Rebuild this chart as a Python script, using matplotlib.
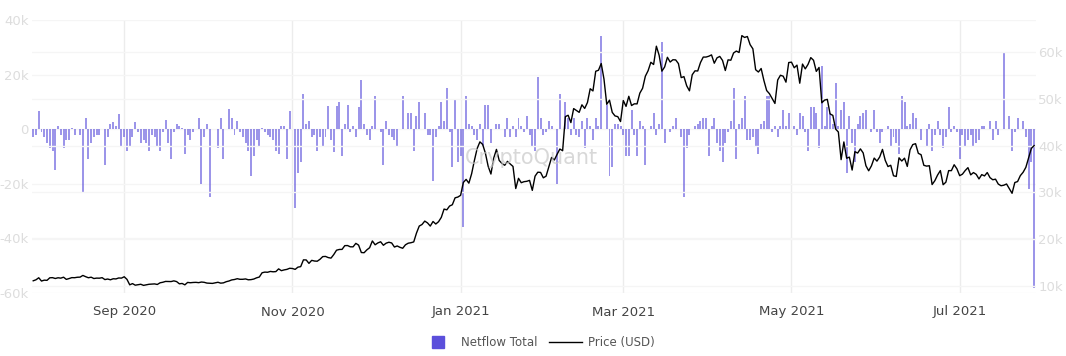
import pandas as pd
import matplotlib
matplotlib.use("Agg")
import matplotlib.pyplot as plt
import matplotlib.dates as mdates
from matplotlib.ticker import FuncFormatter
from matplotlib.lines import Line2D

# daily netflow (thousands BTC)
flow_jul20 = [-3, -2]
flow_aug20 = [6.5, -1, -3, -5, -7, -8, -15, 1, -2, -7, -4, -4, 0.5, -2, 0, -2, -23, 4, -11, -5,
              -3, -2, -2, 0, -13, -3, 2, 2.5, 1, 5.5, -6]
flow_sep20 = [-3, -8, -6, -3, 2.5, -1, -5, -4, -5, -8, -2, -3, -6, -8, -1, 3.5, -5, -11, -1, 2,
              1, 0.5, -9, -2, -4, -1, 0, 4, -20, -3]
flow_oct20 = [2, -25, 0, 0, -7, 4, -11, 0, 7.5, 4, -2, 3, -1, -3, -5, -8, -17, -10, -4, -6,
              0.5, -1, -2, -3, -4, -8, -9, 1, 1, -11, 6.5]
flow_nov20 = [0, -29, -16, -12, 13, 2, 3, -3, -2, -8, -3, -6, -3, 8.5, -4, -8.5, 8.5, 10, -10, 2,
              9, -1, 1, -3, 8, 18, 2, -2, -4, 1]
flow_dec20 = [12, 0, -1, -13, 3, -2, -3, -4, -6, 0, 12, 0, 6, 6, -8, 5, 10, 0, 6, -2,
              -2, -19, -3, 1, 10, 3, 15, -1, -14, 11, -12]
flow_jan21 = [-10, -36, 12, 2, 1, -2, -4, 2, -6, 9, 9, -5, 0, 2, 2, 0, -3, 4, -3, 1,
              -3, 4, 1, -1, 5, -2, -6, -8, 19, 4, -2]
flow_feb21 = [-1, 3, 1, 0, -20, 13, 0, 10, 4, -2, 4, -2, -3, 3, -7, 4, 1, -4, 4, 1,
              34, 0, 9, -17, -14, 2, 2, 1]
flow_mar21 = [-2, -10, -10, 7, -2, -10, 3, 1, -13, 0, 1, 6, -2, 2, 32, -5, 0, -1, 1, 4,
              0, -3, -25, -7, -2, 0, 1, 2, 3, 4, 4]
flow_apr21 = [-10, 1, 4, -5, -8, -12, -5, -1, 3, 15, -11, 2, 4, 12, -4, -4, -3, -6, -9, 2,
              3, 12, 12, -1, 1, -3, 1, 7, 1, 6]
flow_may21 = [0, 1, -2, 6, 5, -1, -8, 8, 8, 6, -7, 23, 1, 8, 6, 2, 17, 1, 7, 10,
              -16, 5, -5, -12, 2, 5, 6, 7, 0, -1, 7]
flow_jun21 = [-1, -5, -1, 0, 1, -6, -3, -5, -9, 12, 10, 1, 2, 6, 4, 0, -4, 0, -6, 2,
              -8, -2, 3, -2, -7, -3, 8, -1, 1, -1]
flow_jul21 = [-11, -2, -6, -4, -2, -6, -5, -4, 1, 1, 0, 3, -4, 3, -2, 0, 28, 0, 5, -8,
              -1, 4, 0, 3, -3, -22, -12, -58]

# BTC price (USD)
price_jul20 = [11111, 11323]
price_aug20 = [11759, 11053, 11246, 11205, 11747, 11779, 11601, 11754, 11675, 11878, 11410, 11584,
               11784, 11768, 11865, 11892, 12254, 11991, 11758, 11878, 11592, 11681, 11664, 11774,
               11366, 11488, 11324, 11542, 11507, 11712, 11680]
price_sep20 = [11971, 11414, 10246, 10511, 10170, 10280, 10369, 10131, 10242, 10364, 10400, 10443,
               10323, 10680, 10796, 10974, 10948, 10944, 11094, 10939, 10462, 10538, 10246, 10761,
               10692, 10750, 10775, 10709, 10844, 10784]
price_oct20 = [10619, 10575, 10550, 10669, 10793, 10604, 10668, 10915, 11064, 11296, 11384, 11555,
               11425, 11430, 11505, 11323, 11359, 11483, 11742, 11917, 12823, 12965, 12932, 13108,
               13031, 13075, 13654, 13272, 13437, 13547, 13781]
price_nov20 = [13737, 13550, 14025, 14133, 15579, 15565, 14833, 15479, 15332, 15290, 15701, 16276,
               16317, 16068, 15955, 16716, 17645, 17804, 17817, 18621, 18642, 18370, 18364, 19107,
               18732, 17150, 17108, 17718, 18177, 19625]
price_dec20 = [18803, 19202, 19446, 18699, 19154, 19346, 19191, 18321, 18553, 18264, 18058, 18803,
               19142, 19246, 19417, 21310, 22805, 23137, 23869, 23477, 22803, 23783, 23241, 23735,
               24664, 26437, 26272, 27084, 27362, 28841, 29002]
price_jan21 = [29374, 32127, 32782, 31971, 33992, 36824, 39371, 40797, 40254, 38357, 35566, 33923,
               37316, 39187, 36825, 36178, 35792, 36631, 36070, 35547, 30826, 33005, 32068, 32290,
               32367, 32569, 30432, 33467, 34316, 34269, 33115]
price_feb21 = [33472, 35510, 37473, 36927, 38144, 39266, 38903, 46196, 46481, 44918, 47910, 47505,
               47105, 48717, 47945, 49200, 52149, 51679, 55888, 56100, 57540, 54207, 48825, 49705,
               47094, 46339, 46188, 45137]
price_mar21 = [49631, 48378, 50538, 48561, 48927, 48912, 51206, 52246, 54824, 56008, 57805, 57332,
               61243, 59302, 55907, 56805, 58870, 57858, 58346, 58313, 57523, 54529, 54738, 52774,
               51704, 55137, 55974, 55947, 57750, 58918, 58918]
price_apr21 = [59095, 59384, 57604, 58759, 59057, 58192, 56048, 58323, 58245, 59793, 60204, 59894,
               63503, 63110, 63314, 61572, 60683, 56216, 55724, 56473, 53906, 51763, 51094, 50050,
               49004, 54022, 55034, 54824, 53555, 57750]
price_may21 = [57828, 56631, 57200, 53333, 57424, 56397, 57356, 58803, 58232, 55859, 56704, 49150,
               49716, 49880, 46760, 46457, 43538, 42910, 37002, 40782, 37304, 37536, 34770, 38706,
               38403, 39294, 38436, 35697, 34617, 35678, 37332]
price_jun21 = [36685, 37576, 39188, 36856, 35520, 35797, 33553, 33403, 37389, 36703, 37313, 35551,
               39097, 40219, 40407, 38348, 38053, 35787, 35615, 35698, 31676, 32505, 33723, 34663,
               31637, 32186, 34650, 34649, 35911, 35040]
price_jul21 = [33572, 33897, 34668, 35287, 33746, 34235, 33855, 32877, 33799, 33520, 34240, 33155,
               32702, 32822, 31780, 31421, 31533, 31796, 30817, 29807, 32110, 32313, 33581, 34292,
               35350, 37337, 39406, 39995]

flow_months = [flow_jul20, flow_aug20, flow_sep20, flow_oct20, flow_nov20, flow_dec20, flow_jan21,
               flow_feb21, flow_mar21, flow_apr21, flow_may21, flow_jun21, flow_jul21]
price_months = [price_jul20, price_aug20, price_sep20, price_oct20, price_nov20, price_dec20,
                price_jan21, price_feb21, price_mar21, price_apr21, price_may21, price_jun21,
                price_jul21]

netflow = [v * 1000 for m in flow_months for v in m]
price = [v for m in price_months for v in m]
dates = pd.date_range("2020-07-30", periods=len(netflow), freq="D")

tick_dates = pd.to_datetime(["2020-09-01", "2020-11-01", "2021-01-01",
                             "2021-03-01", "2021-05-01", "2021-07-01"])

bar_color = "#5b4fdb"

fig = plt.figure(figsize=(10.66, 3.56), dpi=100)
ax = fig.add_axes([31.5 / 1066, 63 / 356, 1004 / 1066, 273 / 356])
ax2 = ax.twinx()

ax.bar(dates, netflow, width=0.72, color=bar_color, alpha=0.6, zorder=2)
ax2.plot(dates, price, color="black", lw=1.0, zorder=3)

ax.set_xlim(dates[0] - pd.Timedelta(hours=15), dates[-1] + pd.Timedelta(hours=12))
ax.set_ylim(-60000, 40000)
ax2.set_ylim(8500, 66840)

ax.set_xticks(tick_dates)
ax.xaxis.set_major_formatter(mdates.DateFormatter("%b %Y"))
ax.set_yticks([-60000, -40000, -20000, 0, 20000, 40000])
ax.yaxis.set_major_formatter(FuncFormatter(lambda v, p: "0" if v == 0 else f"{int(v / 1000)}k"))
ax2.set_yticks([10000, 20000, 30000, 40000, 50000, 60000])
ax2.yaxis.set_major_formatter(FuncFormatter(lambda v, p: f"{int(v / 1000)}k"))

for a in (ax, ax2):
    for s in a.spines.values():
        s.set_visible(False)
    a.tick_params(length=0)
ax.tick_params(axis="x", colors="#444444", labelsize=9.5, pad=9)
ax.tick_params(axis="y", colors="#dddddd", labelsize=9.5, pad=2)
ax2.tick_params(axis="y", colors="#dddddd", labelsize=9.5, pad=2)

ax.grid(axis="x", color="#ececec", lw=1, zorder=0)
ax.grid(axis="y", color="#f5f5f5", lw=1, zorder=0)
ax2.grid(axis="y", color="#f5f5f5", lw=1, zorder=0)
ax.set_axisbelow(True)

fig.text(0.499, 0.556, "CryptoQuant", ha="center", va="center", fontsize=15,
         color="#c8c8c8", alpha=0.7, zorder=10)

handles = [Line2D([], [], marker="s", linestyle="none", markersize=9, color=bar_color),
           Line2D([], [], color="black", lw=1.0)]
leg = fig.legend(handles, ["Netflow Total", "Price (USD)"], loc="center",
                 bbox_to_anchor=(0.505, 0.037), ncol=2, frameon=False, fontsize=8.5,
                 handlelength=2.8, columnspacing=1.0, handletextpad=0.5)
for t in leg.get_texts():
    t.set_color("#555555")

fig.savefig("out.png", dpi=100)
